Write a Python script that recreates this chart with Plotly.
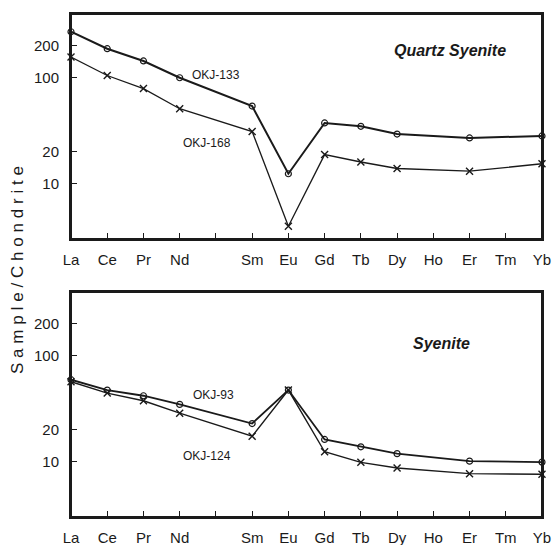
import plotly.graph_objects as go

elements = ["La", "Ce", "Pr", "Nd", "Pm", "Sm", "Eu", "Gd", "Tb", "Dy", "Ho", "Er", "Tm", "Yb"]
pos_all = list(range(len(elements)))
tick_text = [e if e != "Pm" else "" for e in elements]

sample_elems = ["La", "Ce", "Pr", "Nd", "Sm", "Eu", "Gd", "Tb", "Dy", "Er", "Yb"]
sample_pos = [elements.index(e) for e in sample_elems]

okj133 = [272, 188, 144, 100, 54, 12.4, 37.4, 34.8, 29.4, 27.0, 28.2]
okj168 = [157, 105, 79, 51, 31, 3.95, 18.8, 16.0, 13.9, 13.1, 15.4]
okj93 = [59.4, 47.4, 41.9, 34.7, 22.9, 47.4, 16.2, 13.8, 11.9, 10.1, 9.9]
okj124 = [56.9, 44.4, 37.6, 28.7, 17.4, 47.4, 12.4, 9.85, 8.7, 7.7, 7.6]

y_major = [10, 20, 100, 200]
y_major_text = ["10", "20", "100", "200"]
y_minor = [3, 4, 5, 6, 7, 8, 9, 30, 40, 50, 60, 70, 80, 90, 300]

INK = "#1a1a1a"
FONT = "Liberation Sans, Arial, Helvetica, sans-serif"
YRANGE = [0.477, 2.602]
TOP_DOMAIN = [0.5527, 1.0]
BOTTOM_DOMAIN = [0.0, 0.4473]

fig = go.Figure()

def add_pair(circ, cross, xa, ya, wc, wx):
    fig.add_trace(go.Scatter(
        x=sample_pos, y=circ, xaxis=xa, yaxis=ya, mode="lines+markers",
        line=dict(color=INK, width=wc),
        marker=dict(symbol="circle-open", size=6, color=INK, line=dict(width=1.2)),
        cliponaxis=False, showlegend=False))
    fig.add_trace(go.Scatter(
        x=sample_pos, y=cross, xaxis=xa, yaxis=ya, mode="lines+markers",
        line=dict(color=INK, width=wx),
        marker=dict(symbol="x-thin", size=7, color=INK, line=dict(width=1.4, color=INK)),
        cliponaxis=False, showlegend=False))

add_pair(okj133, okj168, "x", "y", 2.0, 1.3)
add_pair(okj93, okj124, "x2", "y2", 1.8, 1.4)

xaxis_common = dict(
    range=[0, 13], tickmode="array", tickvals=pos_all, ticktext=tick_text,
    ticks="inside", ticklen=6, tickwidth=1.3, tickcolor=INK,
    showline=True, linewidth=2, linecolor=INK, mirror=True,
    showgrid=False, zeroline=False, ticklabelstandoff=6, automargin=False,
    tickfont=dict(family=FONT, size=15, color=INK),
)
yaxis_common = dict(
    type="log", range=YRANGE, tickmode="array",
    tickvals=y_major, ticktext=y_major_text,
    ticks="inside", ticklen=6, tickwidth=1.3, tickcolor=INK,
    showline=True, linewidth=2, linecolor=INK, mirror=True,
    showgrid=False, zeroline=False, ticklabelstandoff=7, automargin=False,
    tickfont=dict(family=FONT, size=15, color=INK),
)
yminor_common = dict(
    type="log", range=YRANGE, tickmode="array", tickvals=y_minor,
    showticklabels=False, ticks="inside", ticklen=4, tickwidth=1, tickcolor=INK,
    showline=False, showgrid=False, zeroline=False, automargin=False,
)

fig.update_layout(
    width=553, height=545,
    margin=dict(l=71, r=11, t=14, b=28, autoexpand=False),
    paper_bgcolor="white", plot_bgcolor="white",
    xaxis=dict(domain=[0, 1], anchor="y", **xaxis_common),
    yaxis=dict(domain=TOP_DOMAIN, anchor="x", **yaxis_common),
    xaxis2=dict(domain=[0, 1], anchor="y2", **xaxis_common),
    yaxis2=dict(domain=BOTTOM_DOMAIN, anchor="x2", **yaxis_common),
    yaxis3=dict(overlaying="y", anchor="x", side="left", **yminor_common),
    yaxis4=dict(overlaying="y2", anchor="x2", side="left", **yminor_common),
)

# frame boxes around both panels (paper-referenced so they are not clipped)
for dom in (TOP_DOMAIN, BOTTOM_DOMAIN):
    fig.add_shape(type="rect", xref="paper", yref="paper", x0=0, x1=1, y0=dom[0], y1=dom[1],
                  line=dict(color=INK, width=2), fillcolor="rgba(0,0,0,0)", layer="above")

def ann(text, x, y, xr, yr, size, bold_italic=False):
    if bold_italic:
        text = "<b><i>" + text + "</i></b>"
    fig.add_annotation(text=text, x=x, y=y, xref=xr, yref=yr, showarrow=False,
                       font=dict(family=FONT, size=size, color=INK),
                       xanchor="center", yanchor="middle")

ann("OKJ-133", 0.308, 0.729, "x domain", "y domain", 12)
ann("OKJ-168", 0.289, 0.427, "x domain", "y domain", 12)
ann("Quartz Syenite", 0.804, 0.836, "x domain", "y domain", 16, True)
ann("Syenite", 0.786, 0.773, "x2 domain", "y2 domain", 16, True)
ann("OKJ-93", 0.3025, 0.542, "x2 domain", "y2 domain", 12)
ann("OKJ-124", 0.289, 0.271, "x2 domain", "y2 domain", 12)

fig.add_annotation(
    text='<span style="letter-spacing:4.8px">Sample/Chondrite</span>',
    x=-0.1146, y=0.495, xref="paper", yref="paper", textangle=-90,
    showarrow=False, xanchor="center", yanchor="middle",
    font=dict(family=FONT, size=17, color=INK))

fig.write_html(
    "out.html",
    config={"displayModeBar": False},
    post_script="document.body.style.margin='0';document.body.style.overflow='hidden';",
)
